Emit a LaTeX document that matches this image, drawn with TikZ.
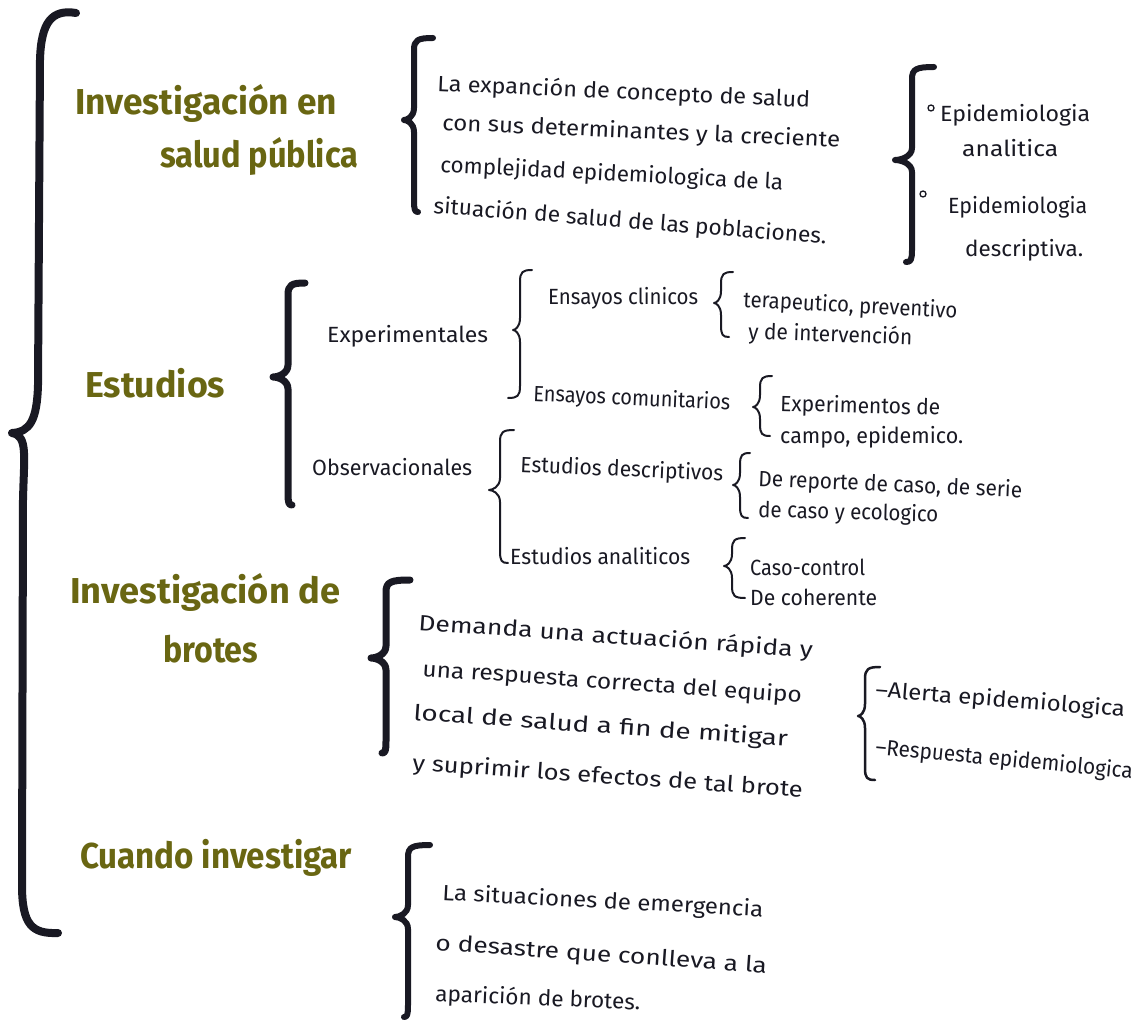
\documentclass[tikz,border=0pt]{standalone}
\usepackage{fontspec}
\setmainfont{Fira Sans}
\usepackage{graphicx}
\definecolor{inkc}{RGB}{25,25,35}
\definecolor{headc}{RGB}{105,102,18}
\newcommand\fw[2]{\resizebox{#1pt}{\height}{#2}}
% style, xv, xt, xetop, xebot, yt, ym, yb
\newcommand\cbrace[8]{%
 \draw[brace,#1] (#4,#6) .. controls ({#2+0.2*(#4-#2)},#6) and (#2,{#6+2}) .. (#2,{#6+12}) -- (#2,{#7-12})
  .. controls (#2,{#7-3}) and ({#3+0.3*(#2-#3)},#7) .. (#3,#7)
  .. controls ({#3+0.3*(#2-#3)},#7) and (#2,{#7+3}) .. (#2,{#7+12}) -- (#2,{#8-12})
  .. controls (#2,{#8-2}) and ({#2+0.2*(#5-#2)},#8) .. (#5,#8);}
\tikzset{
 head/.style={anchor=base west, inner sep=0pt, text=headc, font=\fontsize{36}{40}\selectfont\bfseries},
 body/.style={anchor=base west, inner sep=0pt, text=inkc, font=\fontsize{22}{26}\selectfont},
 brace/.style={draw=inkc, line cap=round, line join=round},
 bullet/.style={circle, draw=inkc, line width=1.3pt, minimum size=6pt, inner sep=0pt},
}
\begin{document}
\begin{tikzpicture}[x=1pt,y=-1pt]
\useasboundingbox[fill=white] (0,0) rectangle (1138,1024);
% main brace
\draw[brace, line width=8pt] (76,13) .. controls (52,9) and (41,22) .. (40,60) -- (38,385)
  .. controls (37,420) and (30,432) .. (12,433) .. controls (28,436) and (24,455) .. (23,500)
  -- (22,885) .. controls (22,925) and (32,934) .. (58,933);
% headings
\node[head] (h1a) at (75,115) {\fw{262}{Investigación en}};
\node[head] (h1b) at (160,168) {\fw{198}{salud pública}};
\node[head] (h2) at (85,398) {\fw{140}{Estudios}};
\node[head] (h3a) at (70,603) {\fw{270}{Investigación de}};
\node[head] (h3b) at (163,662) {\fw{95}{brotes}};
\node[head] (h4) at (80,868) {\fw{272}{Cuando investigar}};
% section 1
\cbrace{line width=6pt}{414}{404}{433}{418}{38}{120}{212}
\node[body, rotate=-2.5] (b1) at (437,91) {\fw{373}{La expanción de concepto de salud}};
\node[body, rotate=-2.5] (b2) at (442,130) {\fw{398}{con sus determinantes y la creciente}};
\node[body, rotate=-3] (b3) at (440,172) {\fw{343}{complejidad epidemiologica de la}};
\node[body, rotate=-4.5] (b4) at (433,213) {\fw{394}{situación de salud de las poblaciones.}};
\cbrace{line width=6pt}{912}{895}{934}{906}{67}{160}{262}
\node[bullet] (bu1) at (931,108) {};
\node[body] (r1) at (940,122) {\fw{150}{Epidemiologia}};
\node[body] (r2) at (962,157) {\fw{96}{analitica}};
\node[bullet] (bu2) at (923,194) {};
\node[body] (r3) at (948,214) {\fw{139}{Epidemiologia}};
\node[body] (r4) at (965,257) {\fw{118}{descriptiva.}};
% Estudios
\cbrace{line width=7pt}{288}{273}{305}{292}{283}{377}{505}
\node[body] (e1) at (327,343) {\fw{161}{Experimentales}};
\cbrace{line width=2pt}{520}{513}{532}{508}{270}{330}{398}
\node[body] (e2) at (548,305) {\fw{150}{Ensayos clinicos}};
\cbrace{line width=2pt}{721}{714}{733}{729}{272}{303}{337}
\node[body, rotate=-3] (e3) at (743,307) {\fw{214}{terapeutico, preventivo}};
\node[body, rotate=-2] (e4) at (748,339) {\fw{164}{y de intervención}};
\node[body, rotate=-2.5] (e5) at (533,401) {\fw{197}{Ensayos comunitarios}};
\cbrace{line width=2pt}{760}{753}{772}{770}{376}{407}{436}
\node[body, rotate=-1.5] (e6) at (780,411) {\fw{160}{Experimentos de}};
\node[body] (e7) at (780,443) {\fw{183}{campo, epidemico.}};
\node[body] (e8) at (312,475) {\fw{160}{Observacionales}};
\cbrace{line width=2pt}{500}{489}{514}{508}{430}{490}{563}
\node[body, rotate=-2.5] (e9) at (520,472) {\fw{203}{Estudios descriptivos}};
\cbrace{line width=2pt}{740}{733}{750}{748}{453}{485}{518}
\node[body, rotate=-2.5] (e10) at (758,486) {\fw{264}{De reporte de caso, de serie}};
\node[body, rotate=-1.5] (e11) at (758,517) {\fw{180}{de caso y ecologico}};
\node[body] (e12) at (510,564) {\fw{180}{Estudios analiticos}};
\cbrace{line width=2pt}{732}{724}{745}{745}{538}{566}{598}
\node[body] (e13) at (750,575) {\fw{115}{Caso-control}};
\node[body] (e14) at (750,605) {\fw{127}{De coherente}};
% brotes
\cbrace{line width=7pt}{386}{371}{410}{382}{580}{658}{753}
\node[body, rotate=-4] (t1) at (418,630) {\fw{395}{Demanda una actuación rápida y}};
\node[body, rotate=-4] (t2) at (422,676) {\fw{380}{una respuesta correcta del equipo}};
\node[body, rotate=-4] (t3) at (413,720) {\fw{375}{local de salud a fin de mitigar}};
\node[body, rotate=-4] (t4) at (412,770) {\fw{391}{y suprimir los efectos de tal brote}};
\cbrace{line width=2.5pt}{865}{858}{880}{875}{667}{716}{780}
\node[body, rotate=-4.5] (a1) at (875,697) {\fw{250}{–Alerta epidemiologica}};
\node[body, rotate=-5.5] (a2) at (875,754) {\fw{258}{–Respuesta epidemiologica}};
% cuando
\cbrace{line width=6pt}{408}{395}{430}{404}{845}{917}{1017}
\node[body, rotate=-3] (c1) at (442,900) {\fw{321}{La situaciones de emergencia}};
\node[body, rotate=-4] (c2) at (435,950) {\fw{332}{o desastre que conlleva a la}};
\node[body, rotate=-2.5] (c3) at (435,1001) {\fw{205}{aparición de brotes.}};
\end{tikzpicture}
\end{document}
